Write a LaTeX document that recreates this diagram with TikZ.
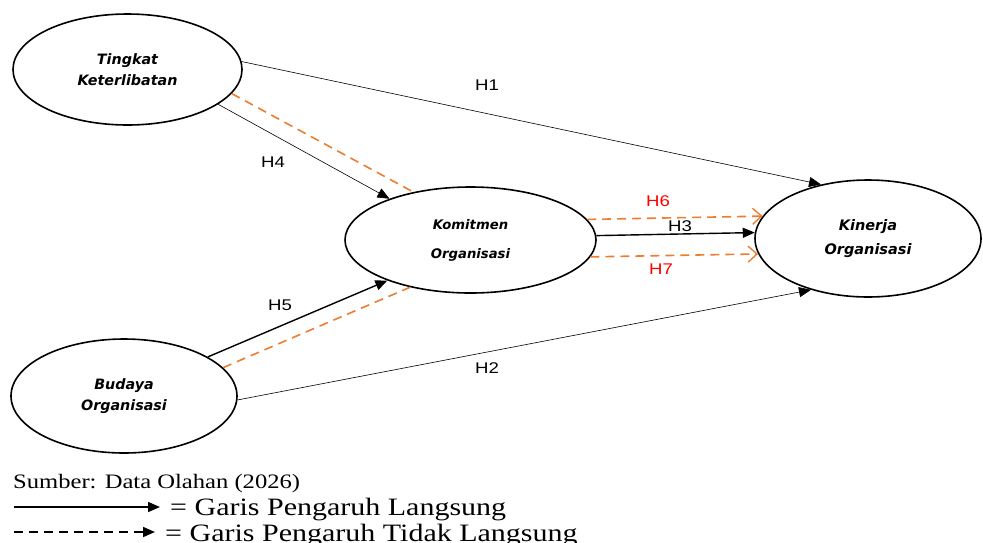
\documentclass[tikz,border=0pt]{standalone}
\usepackage{fontspec}
\setmainfont[FakeStretch=1.2]{Liberation Serif}
\newfontfamily\hfont[FakeStretch=1.2]{Liberation Sans}
\newfontfamily\varfont{DejaVu Sans}
\usetikzlibrary{shapes, arrows}
\usetikzlibrary{arrows.meta,positioning}

\tikzset{
  var/.style={draw,ellipse,line width=1.6pt,align=center,inner sep=0pt,
    font=\varfont\bfseries\itshape\fontsize{14.3}{21}\selectfont},
  direct/.style={-{Triangle[length=12pt,width=10pt]},line width=0.6pt},
  indirect/.style={indcol,line width=1.6pt,dash pattern=on 9pt off 6pt},
  hlabel/.style={font=\hfont\fontsize{15.5}{17}\selectfont,inner sep=0pt}
}

\begin{document}
\begin{tikzpicture}[x=1pt,y=-1pt]
    \definecolor{indcol}{rgb}{0.93,0.49,0.19}
    \definecolor{hypred}{rgb}{1.0,0.0,0.0}
    \useasboundingbox (0,0) rectangle (983,542);

    % variables
    \node(tk) [var,minimum width=229pt,minimum height=111pt] at (127.5,69.5) {Tingkat\\Keterlibatan};
    \node(kom) [var,minimum width=251pt,minimum height=106pt,font=\varfont\bfseries\itshape\fontsize{13.2}{29}\selectfont] at (470.5,240) {Komitmen\\Organisasi};
    \node(kin) [var,minimum width=226pt,minimum height=117pt,font=\varfont\bfseries\itshape\fontsize{14.5}{24}\selectfont] at (868,238.5) {Kinerja\\Organisasi};
    \node(bud) [var,minimum width=226pt,minimum height=114pt] at (124,396) {Budaya\\Organisasi};

    % direct paths
    \draw[direct] (tk.4) -- (kin.131);
    \draw[direct] (tk.-21) -- (kom.153.6);
    \draw[direct,line width=1.4pt] (bud.25.7) -- (kom.206.7);
    \draw[direct] (bud.-2) -- (kin.222);
    \draw[direct,line width=1.4pt] (kom.2) -- (kin.177);

    % indirect paths
    \draw[indirect] (tk.-13) -- (kom.140);
    \draw[indirect] (bud.16) -- (kom.218);
    \draw[indirect,-{Straight Barb[length=9pt,width=16pt,line width=1.4pt]}] (kom.10) -- (kin.168);
    \draw[indirect,-{Straight Barb[length=9pt,width=16pt,line width=1.4pt]}] (kom.-8) -- (kin.188);

    % hypothesis labels
    \node(h1) [hlabel] at (487,85) {H1};
    \node(h2) [hlabel] at (487,368) {H2};
    \node(h3) [hlabel] at (680,226) {H3};
    \node(h4) [hlabel] at (273,162) {H4};
    \node(h5) [hlabel] at (280,305) {H5};
    \node(h6) [hlabel,text=hypred] at (658,201) {H6};
    \node(h7) [hlabel,text=hypred] at (661,269) {H7};

    % legend
    \node(src) [anchor=west,inner sep=0pt,font=\fontsize{20.5}{22}\selectfont] at (13,484) {Sumber: Data Olahan (2026)};
    \coordinate (legAs) at (14,507);
    \coordinate (legAe) at (160,507);
    \coordinate (legBs) at (14,532);
    \coordinate (legBe) at (155,532);
    \draw[-{Triangle[length=12pt,width=10pt]},line width=1.6pt] (legAs) -- (legAe);
    \draw[-{Triangle[length=12pt,width=10pt]},line width=1.6pt,dash pattern=on 9pt off 6pt] (legBs) -- (legBe);
    \node(legAtext) [right=10pt of legAe,yshift=-3pt,inner sep=0pt,font=\fontsize{25}{27}\selectfont] {= Garis Pengaruh Langsung};
    \node(legBtext) [right=10pt of legBe,yshift=-4pt,inner sep=0pt,font=\fontsize{25}{27}\selectfont] {= Garis Pengaruh Tidak Langsung};
\end{tikzpicture}
\end{document}
